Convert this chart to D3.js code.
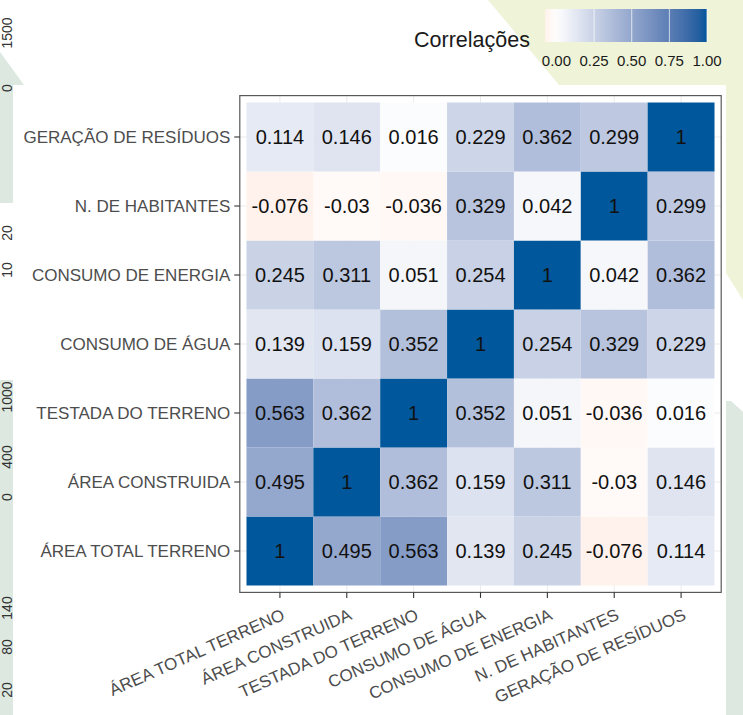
<!DOCTYPE html>
<html>
<head>
    <title>Correlações</title>
    <!-- fetch the D3js library -->
    <script src="https://d3js.org/d3.v7.min.js"></script>
    <style>
        body {margin: 0; background: #ffffff; font-family: "Liberation Sans", Arial, sans-serif;}
        svg {display: block;}
    </style>
</head>
<body>
<script>
    // Variables (x axis left to right, y axis bottom to top)
    const variables = ["ÁREA TOTAL TERRENO", "ÁREA CONSTRUIDA", "TESTADA DO TERRENO",
                       "CONSUMO DE ÁGUA", "CONSUMO DE ENERGIA", "N. DE HABITANTES",
                       "GERAÇÃO DE RESÍDUOS"];

    // Correlation values, one row per variable (same order as above)
    const rowAreaTotal     = [1, 0.495, 0.563, 0.139, 0.245, -0.076, 0.114];
    const rowAreaConstruida = [0.495, 1, 0.362, 0.159, 0.311, -0.03, 0.146];
    const rowTestada       = [0.563, 0.362, 1, 0.352, 0.051, -0.036, 0.016];
    const rowAgua          = [0.139, 0.159, 0.352, 1, 0.254, 0.329, 0.229];
    const rowEnergia       = [0.245, 0.311, 0.051, 0.254, 1, 0.042, 0.362];
    const rowHabitantes    = [-0.076, -0.03, -0.036, 0.329, 0.042, 1, 0.299];
    const rowResiduos      = [0.114, 0.146, 0.016, 0.229, 0.362, 0.299, 1];
    const matrix = [rowAreaTotal, rowAreaConstruida, rowTestada, rowAgua,
                    rowEnergia, rowHabitantes, rowResiduos];

    // Legend
    const legendTitle = "Correlações";
    const legendTicks = [0, 0.25, 0.5, 0.75, 1];

    // Leftover axis labels of the page behind the chart (left edge)
    const sideLabels = [["1500", 33], ["0", 88], ["20", 233], ["10", 270], ["1000", 397],
                        ["400", 457], ["0", 497], ["140", 608], ["80", 647], ["20", 690]];

    const width = 743;
    const height = 715;

    const svg = d3.select("body")
        .append("svg")
        .attr("width", width)
        .attr("height", height);

    // page decorations behind the chart
    svg.append("polygon").attr("points", "488,0 743,0 743,300 726,273 726,85 559,85").attr("fill", "#eff4d8");
    svg.append("polygon").attr("points", "726,401 731,401 743,412 743,715 726,715").attr("fill", "#dce8e0");
    svg.append("polygon").attr("points", "0,52 24,85 24,203 0,203").attr("fill", "#dce8e0");
    svg.append("rect").attr("x", 0).attr("y", 380).attr("width", 13).attr("height", 335).attr("fill", "#dce8e0");

    svg.selectAll(".side")
        .data(sideLabels)
        .enter()
        .append("text")
        .attr("transform", d => "translate(12," + d[1] + ") rotate(-90)")
        .attr("text-anchor", "middle")
        .style("font-size", "14px")
        .style("fill", "#333")
        .text(d => d[0]);

    // white background of the chart image
    svg.append("rect").attr("x", 13).attr("y", 85).attr("width", 713).attr("height", 630).attr("fill", "#ffffff");

    // panel
    const panel = {left: 239.8, right: 721.2, top: 95.6, bottom: 592.4};

    const x = d3.scaleBand()
        .domain(variables)
        .range([panel.left, panel.right])
        .paddingOuter(0.1);

    const y = d3.scaleBand()
        .domain(variables)
        .range([panel.bottom, panel.top])
        .paddingOuter(0.1);

    // diverging colour: red - white - blue, midpoint 0
    function fillColor(v) {
        if (v >= 0) return d3.interpolateLab("#ffffff", "#01579B")(v);
        return d3.interpolateLab("#ffffff", "#ff0000")(-v);
    }

    // grid lines
    svg.selectAll(".gx")
        .data(variables)
        .enter()
        .append("line")
        .attr("x1", d => x(d) + x.bandwidth() / 2)
        .attr("x2", d => x(d) + x.bandwidth() / 2)
        .attr("y1", panel.top)
        .attr("y2", panel.bottom)
        .attr("stroke", "#ebebeb");

    svg.selectAll(".gy")
        .data(variables)
        .enter()
        .append("line")
        .attr("y1", d => y(d) + y.bandwidth() / 2)
        .attr("y2", d => y(d) + y.bandwidth() / 2)
        .attr("x1", panel.left)
        .attr("x2", panel.right)
        .attr("stroke", "#ebebeb");

    // cells
    const cells = [];
    matrix.forEach(function(row, i) {
        row.forEach(function(v, j) {
            cells.push({row: variables[i], col: variables[j], value: v});
        });
    });

    svg.selectAll(".cell")
        .data(cells)
        .enter()
        .append("rect")
        .attr("x", d => x(d.col))
        .attr("y", d => y(d.row))
        .attr("width", x.bandwidth())
        .attr("height", y.bandwidth())
        .attr("fill", d => fillColor(d.value));

    svg.selectAll(".label")
        .data(cells)
        .enter()
        .append("text")
        .attr("x", d => x(d.col) + x.bandwidth() / 2)
        .attr("y", d => y(d.row) + y.bandwidth() / 2)
        .attr("dy", "0.36em")
        .attr("text-anchor", "middle")
        .style("font-size", "20px")
        .style("fill", "#111")
        .text(d => String(d.value));

    // panel border
    svg.append("rect")
        .attr("x", panel.left)
        .attr("y", panel.top)
        .attr("width", panel.right - panel.left)
        .attr("height", panel.bottom - panel.top)
        .attr("fill", "none")
        .attr("stroke", "#595959")
        .attr("stroke-width", 1.2);

    // y axis ticks and labels
    svg.selectAll(".ty")
        .data(variables)
        .enter()
        .append("line")
        .attr("x1", panel.left - 5.5)
        .attr("x2", panel.left)
        .attr("y1", d => y(d) + y.bandwidth() / 2)
        .attr("y2", d => y(d) + y.bandwidth() / 2)
        .attr("stroke", "#333")
        .attr("stroke-width", 1.1);

    svg.selectAll(".ly")
        .data(variables)
        .enter()
        .append("text")
        .attr("x", panel.left - 9.5)
        .attr("y", d => y(d) + y.bandwidth() / 2)
        .attr("dy", "0.35em")
        .attr("text-anchor", "end")
        .style("font-size", "17px")
        .style("fill", "#4d4d4d")
        .text(d => d);

    // x axis ticks and rotated labels
    svg.selectAll(".tx")
        .data(variables)
        .enter()
        .append("line")
        .attr("x1", d => x(d) + x.bandwidth() / 2)
        .attr("x2", d => x(d) + x.bandwidth() / 2)
        .attr("y1", panel.bottom)
        .attr("y2", panel.bottom + 5.5)
        .attr("stroke", "#333")
        .attr("stroke-width", 1.1);

    svg.selectAll(".lx")
        .data(variables)
        .enter()
        .append("text")
        .attr("transform", d => "translate(" + (x(d) + x.bandwidth() / 2 + 6) + ",619) rotate(-24)")
        .attr("text-anchor", "end")
        .style("font-size", "17px")
        .style("fill", "#4d4d4d")
        .text(d => d);

    // legend colour bar
    const legendScale = d3.scaleLinear()
        .domain([d3.min(matrix, r => d3.min(r)), 1])
        .range([545, 707]);

    const grad = svg.append("defs")
        .append("linearGradient")
        .attr("id", "bar")
        .attr("x1", "0%").attr("x2", "100%");

    d3.range(0, 21).forEach(function(k) {
        const v = legendScale.invert(545 + k * (707 - 545) / 20);
        grad.append("stop")
            .attr("offset", (k * 5) + "%")
            .attr("stop-color", fillColor(v));
    });

    svg.append("rect")
        .attr("x", 545)
        .attr("y", 9)
        .attr("width", 707 - 545)
        .attr("height", 33)
        .attr("fill", "url(#bar)");

    svg.selectAll(".lt")
        .data(legendTicks)
        .enter()
        .append("line")
        .attr("x1", d => legendScale(d))
        .attr("x2", d => legendScale(d))
        .attr("y1", 9)
        .attr("y2", 42)
        .attr("stroke", "#ffffff")
        .attr("stroke-opacity", 0.7);

    svg.selectAll(".ll")
        .data(legendTicks)
        .enter()
        .append("text")
        .attr("x", d => legendScale(d))
        .attr("y", 66)
        .attr("text-anchor", "middle")
        .style("font-size", "15px")
        .style("fill", "#1a1a1a")
        .text(d => d3.format(".2f")(d));

    svg.append("text")
        .attr("x", 414)
        .attr("y", 47)
        .style("font-size", "21.5px")
        .style("fill", "#1a1a1a")
        .text(legendTitle);
</script>
</body>
</html>
